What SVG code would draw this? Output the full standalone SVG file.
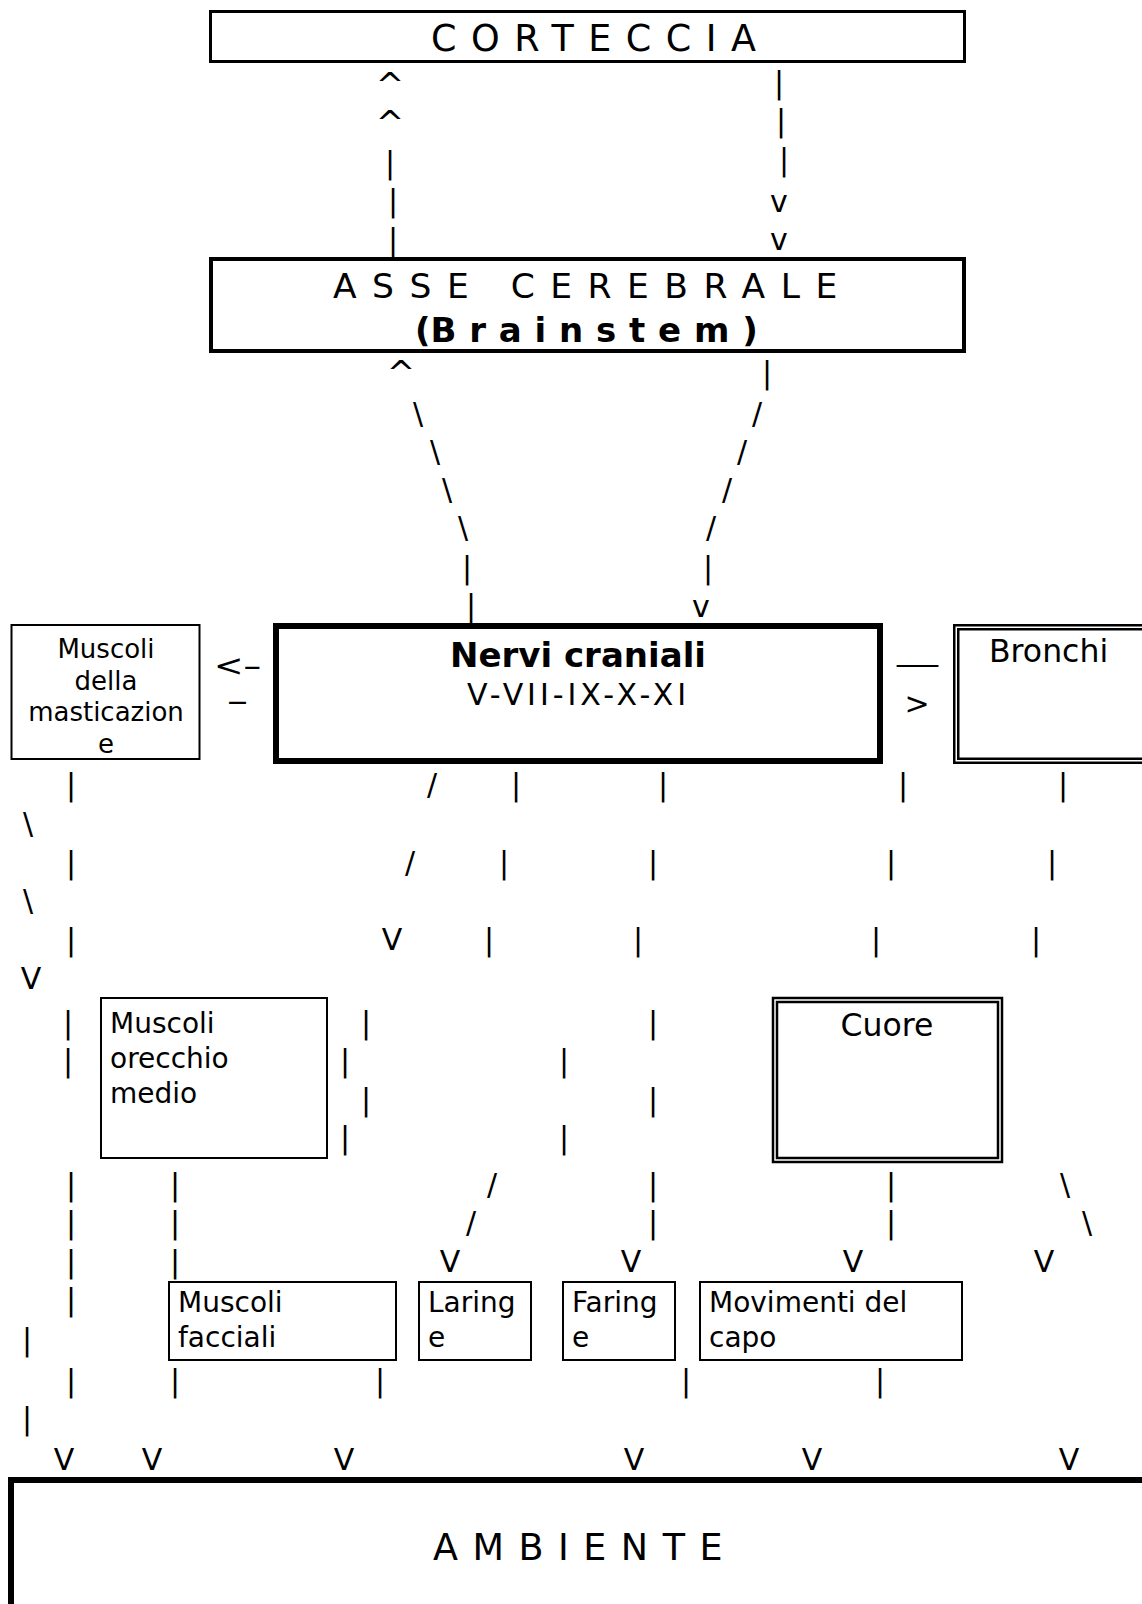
<svg xmlns="http://www.w3.org/2000/svg" width="1142" height="1604" viewBox="0 0 1142 1604">
<style>
text { font-family: "DejaVu Sans", Verdana, sans-serif; fill: #000; }
.box { fill: #fff; stroke: #000; }
.b2 { stroke-width: 2; }
.b3 { stroke-width: 3; }
.b4 { stroke-width: 4; }
.b6 { stroke-width: 6; }
.dbl { fill: none; stroke: #000; stroke-width: 2.5; }
.c { font-size: 30px; text-anchor: middle; }
.big { font-size: 36.5px; letter-spacing: 14.5px; }
.lbl { font-size: 28px; }
</style>
<rect width="1142" height="1604" fill="#fff"/>

<g id="corteccia">
<rect class="box b3" x="210.5" y="11.5" width="754" height="50"/>
<text class="big" x="431" y="51">CORTECCIA</text>
</g>

<g id="asse-cerebrale">
<rect class="box b4" x="211" y="259" width="753" height="92"/>
<text x="333" y="298" style="font-size:34.5px;letter-spacing:15.5px">ASSE CEREBRALE</text>
<text x="415" y="342" style="font-size:34px;font-weight:bold">(<tspan style="letter-spacing:12.8px">Brainstem</tspan>)</text>
</g>

<g id="nervi-craniali">
<rect class="box b6" x="276" y="626" width="604" height="135"/>
<text x="578" y="667" text-anchor="middle" style="font-size:34px;font-weight:bold">Nervi craniali</text>
<text x="467" y="705" style="font-size:30px" textLength="219" lengthAdjust="spacing">V-VII-IX-X-XI</text>
</g>

<g id="muscoli-masticazione">
<rect class="box b2" x="11.5" y="625" width="188" height="134"/>
<g style="font-size:26px" text-anchor="middle">
<text x="106" y="658">Muscoli</text>
<text x="106" y="690">della</text>
<text x="106" y="721">masticazion</text>
<text x="106" y="753">e</text>
</g>
</g>

<g id="bronchi">
<rect x="954" y="625" width="300" height="138" fill="#fff"/>
<rect class="dbl" x="954.25" y="625.25" width="300" height="137.5"/>
<rect class="dbl" x="958.25" y="629.25" width="300" height="129.5"/>
<text x="989" y="662" style="font-size:31.5px">Bronchi</text>
</g>

<g id="muscoli-orecchio-medio">
<rect class="box b2" x="101" y="998" width="226" height="160"/>
<g class="lbl">
<text x="110" y="1033">Muscoli</text>
<text x="110" y="1068">orecchio</text>
<text x="110" y="1103">medio</text>
</g>
</g>

<g id="cuore">
<rect x="772" y="997" width="231" height="166" fill="#fff"/>
<rect class="dbl" x="773" y="998" width="229" height="164"/>
<rect class="dbl" x="777" y="1002" width="221" height="156"/>
<text x="887" y="1036" text-anchor="middle" style="font-size:31.5px">Cuore</text>
</g>

<g id="muscoli-facciali">
<rect class="box b2" x="169" y="1282" width="227" height="78"/>
<text class="lbl" x="178" y="1312">Muscoli</text>
<text class="lbl" x="178" y="1347">facciali</text>
</g>

<g id="laringe">
<rect class="box b2" x="419" y="1282" width="112" height="78"/>
<text class="lbl" x="428" y="1312">Laring</text>
<text class="lbl" x="428" y="1347">e</text>
</g>

<g id="faringe">
<rect class="box b2" x="563" y="1282" width="112" height="78"/>
<text class="lbl" x="572" y="1312">Faring</text>
<text class="lbl" x="572" y="1347">e</text>
</g>

<g id="movimenti-capo">
<rect class="box b2" x="700" y="1282" width="262" height="78"/>
<text class="lbl" x="709" y="1312">Movimenti del</text>
<text class="lbl" x="709" y="1347">capo</text>
</g>

<g id="ambiente">
<rect class="box b6" x="11" y="1480" width="1200" height="200"/>
<text class="big" x="433" y="1560">AMBIENTE</text>
</g>

<g id="connectors" class="c">
<!-- corteccia <-> asse -->
<text x="390" y="97" style="font-size:34px">^</text>
<text x="390" y="135" style="font-size:34px">^</text>
<text x="390" y="173">|</text>
<text x="393" y="211">|</text>
<text x="393" y="250">|</text>
<text x="779" y="93">|</text>
<text x="781" y="131">|</text>
<text x="784" y="170">|</text>
<text x="779" y="212">v</text>
<text x="779" y="250">v</text>
<!-- asse <-> nervi -->
<text x="401" y="385" style="font-size:34px">^</text>
<text x="418" y="424">\</text>
<text x="435" y="462">\</text>
<text x="447" y="500">\</text>
<text x="463" y="538">\</text>
<text x="467" y="578">|</text>
<text x="471" y="616">|</text>
<text x="767" y="383">|</text>
<text x="757" y="424">/</text>
<text x="742" y="462">/</text>
<text x="727" y="500">/</text>
<text x="711" y="538">/</text>
<text x="708" y="578">|</text>
<text x="701" y="617">v</text>
<!-- side arrows -->
<text x="214" y="676" text-anchor="start" textLength="47" lengthAdjust="spacingAndGlyphs">&lt;–</text>
<text x="227" y="711" text-anchor="start" textLength="21" lengthAdjust="spacingAndGlyphs">–</text>
<text x="897" y="660" text-anchor="start" textLength="41" lengthAdjust="spacingAndGlyphs">__</text>
<text x="917" y="714">&gt;</text>
<!-- below nervi -->
<text x="71" y="795">|</text>
<text x="432" y="795">/</text>
<text x="516" y="795">|</text>
<text x="663" y="795">|</text>
<text x="903" y="795">|</text>
<text x="1063" y="795">|</text>
<text x="28" y="834">\</text>
<text x="71" y="873">|</text>
<text x="410" y="873">/</text>
<text x="504" y="873">|</text>
<text x="653" y="873">|</text>
<text x="891" y="873">|</text>
<text x="1052" y="873">|</text>
<text x="28" y="911">\</text>
<text x="71" y="950">|</text>
<text x="392" y="950">V</text>
<text x="489" y="950">|</text>
<text x="638" y="950">|</text>
<text x="876" y="950">|</text>
<text x="1036" y="950">|</text>
<text x="31" y="989">V</text>
<!-- orecchio medio rows -->
<text x="68" y="1033">|</text>
<text x="366" y="1033">|</text>
<text x="653" y="1033">|</text>
<text x="68" y="1071">|</text>
<text x="345" y="1071">|</text>
<text x="564" y="1071">|</text>
<text x="366" y="1110">|</text>
<text x="653" y="1110">|</text>
<text x="345" y="1148">|</text>
<text x="564" y="1148">|</text>
<!-- lower rows -->
<text x="71" y="1195">|</text>
<text x="175" y="1195">|</text>
<text x="492" y="1195">/</text>
<text x="653" y="1195">|</text>
<text x="891" y="1195">|</text>
<text x="1065" y="1195">\</text>
<text x="71" y="1233">|</text>
<text x="175" y="1233">|</text>
<text x="471" y="1233">/</text>
<text x="653" y="1233">|</text>
<text x="891" y="1233">|</text>
<text x="1087" y="1233">\</text>
<text x="71" y="1272">|</text>
<text x="175" y="1272">|</text>
<text x="450" y="1272">V</text>
<text x="631" y="1272">V</text>
<text x="853" y="1272">V</text>
<text x="1044" y="1272">V</text>
<text x="71" y="1310">|</text>
<text x="27" y="1350">|</text>
<text x="71" y="1391">|</text>
<text x="175" y="1391">|</text>
<text x="380" y="1391">|</text>
<text x="686" y="1391">|</text>
<text x="880" y="1391">|</text>
<text x="27" y="1429">|</text>
<text x="64" y="1470">V</text>
<text x="152" y="1470">V</text>
<text x="344" y="1470">V</text>
<text x="634" y="1470">V</text>
<text x="812" y="1470">V</text>
<text x="1069" y="1470">V</text>
</g>
</svg>
